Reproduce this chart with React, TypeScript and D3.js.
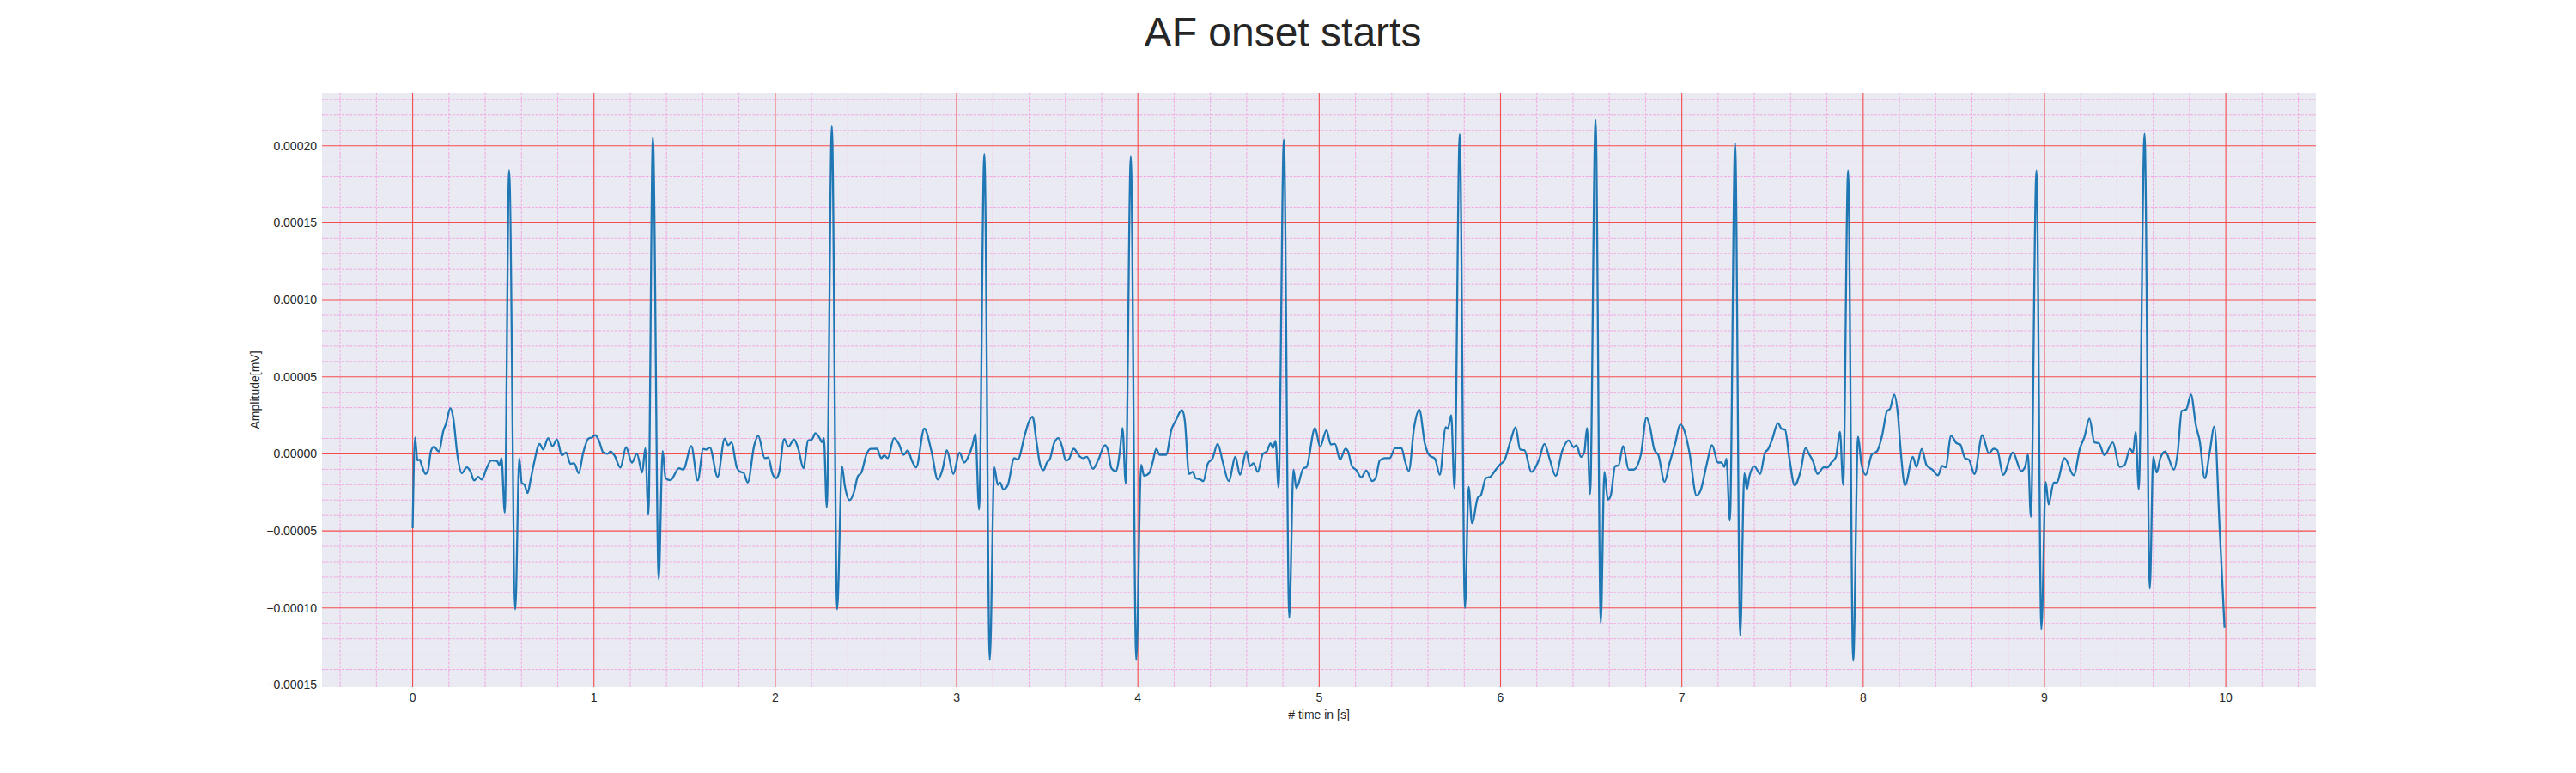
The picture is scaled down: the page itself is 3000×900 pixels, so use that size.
import { useEffect, useRef } from 'react';
import * as d3 from 'd3';

const TITLE = 'AF onset starts';
const X_LABEL = '# time in [s]';
const Y_LABEL = 'Amplitude[mV]';

const X_TICKS = [0, 1, 2, 3, 4, 5, 6, 7, 8, 9, 10];
const Y_TICKS = [-0.00015, -0.0001, -0.00005, 0, 0.00005, 0.0001, 0.00015, 0.0002];
const Y_TICK_LABELS = ['−0.00015', '−0.00010', '−0.00005', '0.00000', '0.00005', '0.00010', '0.00015', '0.00020'];

// ECG trace: time in seconds, amplitude in mV
const TIME_S = [
  0.0, 0.013, 0.027, 0.039, 0.05, 0.071, 0.084, 0.101, 0.117, 0.145,
  0.169, 0.184, 0.208, 0.224, 0.247, 0.271, 0.298, 0.318, 0.339, 0.361,
  0.381, 0.405, 0.433, 0.465, 0.478, 0.49, 0.508, 0.532, 0.566, 0.588,
  0.602, 0.616, 0.634, 0.649, 0.67, 0.7, 0.72, 0.747, 0.771, 0.796,
  0.823, 0.847, 0.87, 0.891, 0.916, 0.941, 0.969, 0.988, 1.007, 1.028,
  1.051, 1.075, 1.091, 1.114, 1.146, 1.177, 1.209, 1.237, 1.266, 1.283,
  1.3, 1.325, 1.357, 1.379, 1.395, 1.422, 1.469, 1.493, 1.537, 1.572,
  1.603, 1.619, 1.639, 1.682, 1.721, 1.74, 1.758, 1.789, 1.808, 1.824,
  1.848, 1.884, 1.906, 1.942, 1.961, 1.985, 2.005, 2.021, 2.049, 2.072,
  2.103, 2.128, 2.155, 2.181, 2.202, 2.221, 2.246, 2.257, 2.268, 2.284,
  2.312, 2.341, 2.368, 2.383, 2.41, 2.434, 2.454, 2.475, 2.502, 2.525,
  2.561, 2.584, 2.601, 2.62, 2.655, 2.683, 2.707, 2.73, 2.754, 2.777,
  2.822, 2.861, 2.896, 2.924, 2.946, 2.982, 3.016, 3.042, 3.069, 3.088,
  3.104, 3.124, 3.153, 3.183, 3.208, 3.227, 3.24, 3.258, 3.282, 3.318,
  3.337, 3.376, 3.397, 3.419, 3.44, 3.46, 3.479, 3.498, 3.515, 3.539,
  3.562, 3.582, 3.602, 3.618, 3.645, 3.681, 3.697, 3.719, 3.752, 3.782,
  3.818, 3.834, 3.854, 3.878, 3.901, 3.915, 3.933, 3.961, 3.991, 4.018,
  4.034, 4.062, 4.081, 4.101, 4.12, 4.156, 4.185, 4.208, 4.243, 4.259,
  4.282, 4.303, 4.318, 4.345, 4.361, 4.385, 4.412, 4.44, 4.469, 4.501,
  4.538, 4.563, 4.598, 4.618, 4.637, 4.661, 4.689, 4.711, 4.732, 4.745,
  4.759, 4.776, 4.805, 4.835, 4.858, 4.874, 4.913, 4.929, 4.977, 5.005,
  5.04, 5.064, 5.087, 5.115, 5.145, 5.158, 5.181, 5.205, 5.232, 5.26,
  5.292, 5.311, 5.334, 5.363, 5.389, 5.418, 5.454, 5.473, 5.494, 5.524,
  5.552, 5.583, 5.607, 5.639, 5.665, 5.698, 5.709, 5.728, 5.746, 5.775,
  5.804, 5.824, 5.843, 5.875, 5.891, 5.919, 5.943, 5.974, 6.001, 6.02,
  6.056, 6.083, 6.108, 6.132, 6.17, 6.214, 6.242, 6.272, 6.304, 6.34,
  6.376, 6.403, 6.419, 6.443, 6.462, 6.477, 6.494, 6.524, 6.553, 6.573,
  6.592, 6.608, 6.632, 6.651, 6.676, 6.707, 6.734, 6.774, 6.805, 6.824,
  6.848, 6.871, 6.905, 6.931, 6.963, 6.991, 7.018, 7.042, 7.081, 7.105,
  7.136, 7.167, 7.199, 7.218, 7.234, 7.246, 7.265, 7.294, 7.322, 7.345,
  7.359, 7.372, 7.4, 7.432, 7.459, 7.475, 7.498, 7.53, 7.55, 7.569,
  7.593, 7.622, 7.653, 7.683, 7.704, 7.723, 7.748, 7.783, 7.802, 7.825,
  7.85, 7.872, 7.89, 7.917, 7.945, 7.972, 7.99, 8.014, 8.047, 8.078,
  8.105, 8.132, 8.148, 8.171, 8.192, 8.208, 8.231, 8.274, 8.294, 8.323,
  8.35, 8.381, 8.413, 8.436, 8.455, 8.485, 8.515, 8.535, 8.562, 8.583,
  8.614, 8.657, 8.693, 8.72, 8.74, 8.772, 8.826, 8.872, 8.893, 8.909,
  8.925, 8.956, 8.983, 9.007, 9.023, 9.051, 9.067, 9.111, 9.161, 9.196,
  9.221, 9.248, 9.276, 9.3, 9.331, 9.377, 9.414, 9.441, 9.472, 9.488,
  9.503, 9.52, 9.552, 9.581, 9.6, 9.619, 9.639, 9.666, 9.714, 9.735,
  9.757, 9.782, 9.808, 9.835, 9.856, 9.884, 9.911, 9.937, 9.966, 9.993,
];

const AMPLITUDE_MV = [
  -4.83e-5, 1.06e-5, -0.43e-5, -0.37e-5, -0.74e-5, -1.3e-5, -1.1e-5, 0.19e-5, 0.46e-5, 0.15e-5,
  1.49e-5, 1.95e-5, 2.97e-5, 2.32e-5, -0.09e-5, -1.25e-5, -0.87e-5, -1.12e-5, -1.73e-5, -1.49e-5,
  -1.67e-5, -1.02e-5, -0.43e-5, -0.46e-5, -0.74e-5, -0.28e-5, -3.81e-5, 18.4e-5, -10.09e-5, -0.28e-5,
  -1.91e-5, -1.99e-5, -2.55e-5, -1.77e-5, -0.56e-5, 0.65e-5, 0.28e-5, 1.02e-5, 0.5e-5, 0.93e-5,
  -0.09e-5, 0.09e-5, -0.65e-5, -0.61e-5, -1.25e-5, 0.09e-5, 0.99e-5, 1.06e-5, 1.21e-5, 0.84e-5,
  0.09e-5, 0.0, 0.15e-5, -0.13e-5, -0.89e-5, 0.43e-5, -0.56e-5, 0.0, -1.21e-5, 0.37e-5,
  -3.96e-5, 20.54e-5, -8.14e-5, 0.19e-5, -1.58e-5, -1.71e-5, -0.93e-5, -1.02e-5, 0.5e-5, -1.73e-5,
  0.32e-5, 0.28e-5, 0.41e-5, -1.49e-5, 0.99e-5, 0.56e-5, 0.74e-5, -0.93e-5, -1.17e-5, -1.21e-5,
  -1.86e-5, 0.56e-5, 1.17e-5, -0.28e-5, -0.24e-5, -1.3e-5, -1.58e-5, -1.21e-5, 0.97e-5, 0.46e-5,
  0.93e-5, 0.28e-5, -0.93e-5, 0.87e-5, 0.93e-5, 1.34e-5, 0.99e-5, 0.74e-5, 1.02e-5, -3.48e-5,
  21.26e-5, -10.09e-5, -0.8e-5, -2.04e-5, -3.01e-5, -2.47e-5, -1.49e-5, -1.21e-5, -0.06e-5, 0.32e-5,
  0.33e-5, -0.28e-5, -0.09e-5, -0.28e-5, 1.02e-5, 0.61e-5, -0.06e-5, 0.22e-5, -0.46e-5, -0.87e-5,
  1.64e-5, 0.19e-5, -1.67e-5, -0.93e-5, 0.24e-5, -1.3e-5, 0.09e-5, -0.56e-5, -0.06e-5, 0.59e-5,
  1.3e-5, -3.62e-5, 19.48e-5, -13.38e-5, -0.87e-5, -2.01e-5, -1.86e-5, -2.32e-5, -2.04e-5, -0.28e-5,
  -0.37e-5, 1.21e-5, 2.04e-5, 2.42e-5, 0.84e-5, -0.65e-5, -1.06e-5, -0.56e-5, -0.32e-5, 0.74e-5,
  1.02e-5, 0.46e-5, -0.43e-5, -0.37e-5, 0.33e-5, -0.19e-5, -0.28e-5, -0.19e-5, -0.97e-5, -0.37e-5,
  0.56e-5, 0.28e-5, -0.93e-5, -1.12e-5, 0.19e-5, 1.67e-5, -1.91e-5, 19.29e-5, -13.38e-5, -0.71e-5,
  -1.43e-5, -1.25e-5, -0.56e-5, 0.32e-5, -0.06e-5, -0.06e-5, 1.58e-5, 2.14e-5, 2.84e-5, 2.14e-5,
  -1.3e-5, -1.17e-5, -1.58e-5, -1.67e-5, -1.77e-5, -0.65e-5, -0.28e-5, 0.65e-5, -0.56e-5, -1.77e-5,
  -0.19e-5, -1.36e-5, 0.15e-5, -0.8e-5, -0.61e-5, -1.17e-5, 0.0, 0.15e-5, 0.69e-5, 0.37e-5,
  0.84e-5, -2.19e-5, 20.39e-5, -10.63e-5, -1.02e-5, -2.23e-5, -0.93e-5, -0.87e-5, 1.67e-5, 0.46e-5,
  1.54e-5, 0.61e-5, 0.65e-5, -0.37e-5, 0.33e-5, 0.19e-5, -0.8e-5, -1.06e-5, -1.52e-5, -1.08e-5,
  -1.77e-5, -1.58e-5, -0.43e-5, -0.28e-5, -0.28e-5, 0.37e-5, 0.37e-5, -0.46e-5, -1.12e-5, 1.77e-5,
  2.88e-5, 0.65e-5, -0.09e-5, -0.32e-5, -1.36e-5, 1.73e-5, 1.62e-5, 2.51e-5, -2.23e-5, 20.76e-5,
  -10.0e-5, -2.14e-5, -4.5e-5, -2.84e-5, -2.7e-5, -1.58e-5, -1.49e-5, -1.02e-5, -0.65e-5, -0.46e-5,
  0.87e-5, 1.73e-5, 0.28e-5, 0.24e-5, -1.17e-5, -0.32e-5, 0.65e-5, -0.37e-5, -1.43e-5, 0.19e-5,
  0.87e-5, 0.43e-5, 0.56e-5, -0.19e-5, 0.09e-5, 1.67e-5, -2.6e-5, 21.69e-5, -10.97e-5, -1.17e-5,
  -2.97e-5, -2.7e-5, -0.8e-5, -0.74e-5, 0.5e-5, -1.02e-5, -1.02e-5, -0.06e-5, 2.36e-5, 1.77e-5,
  0.28e-5, -0.09e-5, -1.82e-5, -0.65e-5, 0.65e-5, 1.91e-5, 1.36e-5, 0.09e-5, -2.7e-5, -2.32e-5,
  -0.74e-5, 0.56e-5, -0.56e-5, -0.56e-5, -0.84e-5, -0.32e-5, -4.33e-5, 20.17e-5, -11.77e-5, -1.25e-5,
  -2.32e-5, -1.49e-5, -0.8e-5, -1.3e-5, 0.09e-5, 0.28e-5, 0.93e-5, 1.99e-5, 1.62e-5, 1.58e-5,
  -0.28e-5, -2.04e-5, -1.21e-5, 0.37e-5, -0.06e-5, -0.46e-5, -1.3e-5, -0.87e-5, -0.89e-5, -0.56e-5,
  -0.19e-5, 1.43e-5, -2.01e-5, 18.38e-5, -13.44e-5, 1.12e-5, -0.61e-5, -1.36e-5, -0.06e-5, 0.19e-5,
  1.21e-5, 2.79e-5, 2.92e-5, 3.85e-5, 2.51e-5, 0.09e-5, -2.04e-5, -0.19e-5, -0.84e-5, 0.32e-5,
  -0.74e-5, -1.02e-5, -1.39e-5, -0.78e-5, -0.87e-5, 1.17e-5, 0.69e-5, 0.61e-5, -0.28e-5, -0.37e-5,
  -1.3e-5, 1.21e-5, 0.04e-5, 0.33e-5, 0.24e-5, -1.36e-5, 0.09e-5, -1.12e-5, -0.84e-5, -0.06e-5,
  -4.09e-5, 18.38e-5, -11.38e-5, -1.82e-5, -3.29e-5, -1.86e-5, -1.86e-5, -0.28e-5, -1.39e-5, 0.37e-5,
  1.12e-5, 2.29e-5, 0.74e-5, 0.69e-5, -0.09e-5, 0.74e-5, -0.84e-5, -0.74e-5, 0.32e-5, 0.09e-5,
  1.43e-5, -2.29e-5, 20.78e-5, -8.74e-5, -0.19e-5, -1.21e-5, -0.28e-5, 0.15e-5, -1.02e-5, 0.09e-5,
  2.79e-5, 2.88e-5, 3.85e-5, 1.86e-5, 0.84e-5, -1.58e-5, 0.09e-5, 1.77e-5, -4.83e-5, -11.28e-5,
];

const W = 3000;
const H = 900;
const M = { left: 375, right: 303, top: 108, bottom: 100 };
const FONT = '"Liberation Sans", Arial, sans-serif';
const TEXT = '#262626';

export default function App() {
  const svgRef = useRef<SVGSVGElement>(null);

  useEffect(() => {
    if (!svgRef.current) return;
    const svg = d3.select(svgRef.current);
    svg.selectAll('*').remove();

    const x = d3.scaleLinear().domain([-0.5, 10.4967]).range([M.left, W - M.right]);
    const y = d3.scaleLinear().domain([-0.0001514, 0.0002344]).range([H - M.bottom, M.top]);
    const [x0, x1] = x.range();
    const [y0, y1] = y.range();

    svg.append('rect')
      .attr('x', x0).attr('y', y1)
      .attr('width', x1 - x0).attr('height', y0 - y1)
      .attr('fill', '#eaeaf2');

    // minor grid, pink dashed
    const minorX = d3.range(-2, 53).map((i) => i * 0.2).filter((v) => Math.abs(v - Math.round(v)) > 1e-6);
    const minorY = d3.range(-15, 24).filter((i) => i % 5 !== 0).map((i) => i * 1e-5);
    const minor = svg.append('g')
      .attr('stroke', '#f2a6e2')
      .attr('stroke-width', 1)
      .attr('stroke-dasharray', '3,1.6');
    minor.selectAll('line.mx').data(minorX).join('line')
      .attr('x1', (d) => x(d)).attr('x2', (d) => x(d))
      .attr('y1', y1).attr('y2', y0);
    minor.selectAll('line.my').data(minorY).join('line')
      .attr('x1', x0).attr('x2', x1)
      .attr('y1', (d) => y(d)).attr('y2', (d) => y(d));

    // major grid, red
    const major = svg.append('g').attr('stroke', '#f44c4c').attr('stroke-width', 1.1);
    major.selectAll('line.gx').data(X_TICKS).join('line')
      .attr('x1', (d) => x(d)).attr('x2', (d) => x(d))
      .attr('y1', y1).attr('y2', y0);
    major.selectAll('line.gy').data(Y_TICKS).join('line')
      .attr('x1', x0).attr('x2', x1)
      .attr('y1', (d) => y(d)).attr('y2', (d) => y(d));

    const points = TIME_S.map((t, i) => [t, AMPLITUDE_MV[i]] as [number, number]);
    const line = d3.line<[number, number]>()
      .x((d) => x(d[0]))
      .y((d) => y(d[1]))
      .curve(d3.curveMonotoneX);

    svg.append('path')
      .attr('d', line(points) ?? '')
      .attr('fill', 'none')
      .attr('stroke', '#1f77b4')
      .attr('stroke-width', 2.3)
      .attr('stroke-linejoin', 'round');

    // tick labels
    svg.append('g').selectAll('text').data(X_TICKS).join('text')
      .attr('x', (d) => x(d))
      .attr('y', y0 + 17)
      .attr('text-anchor', 'middle')
      .attr('fill', TEXT)
      .style('font-family', FONT)
      .style('font-size', '14px')
      .text((d) => String(d));

    svg.append('g').selectAll('text').data(Y_TICKS).join('text')
      .attr('x', x0 - 6)
      .attr('y', (d) => y(d))
      .attr('dy', '0.35em')
      .attr('text-anchor', 'end')
      .attr('fill', TEXT)
      .style('font-family', FONT)
      .style('font-size', '14px')
      .text((_, i) => Y_TICK_LABELS[i]);

    svg.append('text')
      .attr('x', (x0 + x1) / 2)
      .attr('y', y0 + 37)
      .attr('text-anchor', 'middle')
      .attr('fill', TEXT)
      .style('font-family', FONT)
      .style('font-size', '14px')
      .text(X_LABEL);

    svg.append('text')
      .attr('transform', `translate(302,${(y0 + y1) / 2}) rotate(-90)`)
      .attr('text-anchor', 'middle')
      .attr('fill', TEXT)
      .style('font-family', FONT)
      .style('font-size', '14px')
      .text(Y_LABEL);

    svg.append('text')
      .attr('x', 1494)
      .attr('y', 54)
      .attr('text-anchor', 'middle')
      .attr('fill', TEXT)
      .style('font-family', FONT)
      .style('font-size', '48px')
      .text(TITLE);
  }, []);

  return (
    <svg
      ref={svgRef}
      width={W}
      height={H}
      style={{ position: 'absolute', left: 0, top: 0, background: '#fff' }}
    />
  );
}
